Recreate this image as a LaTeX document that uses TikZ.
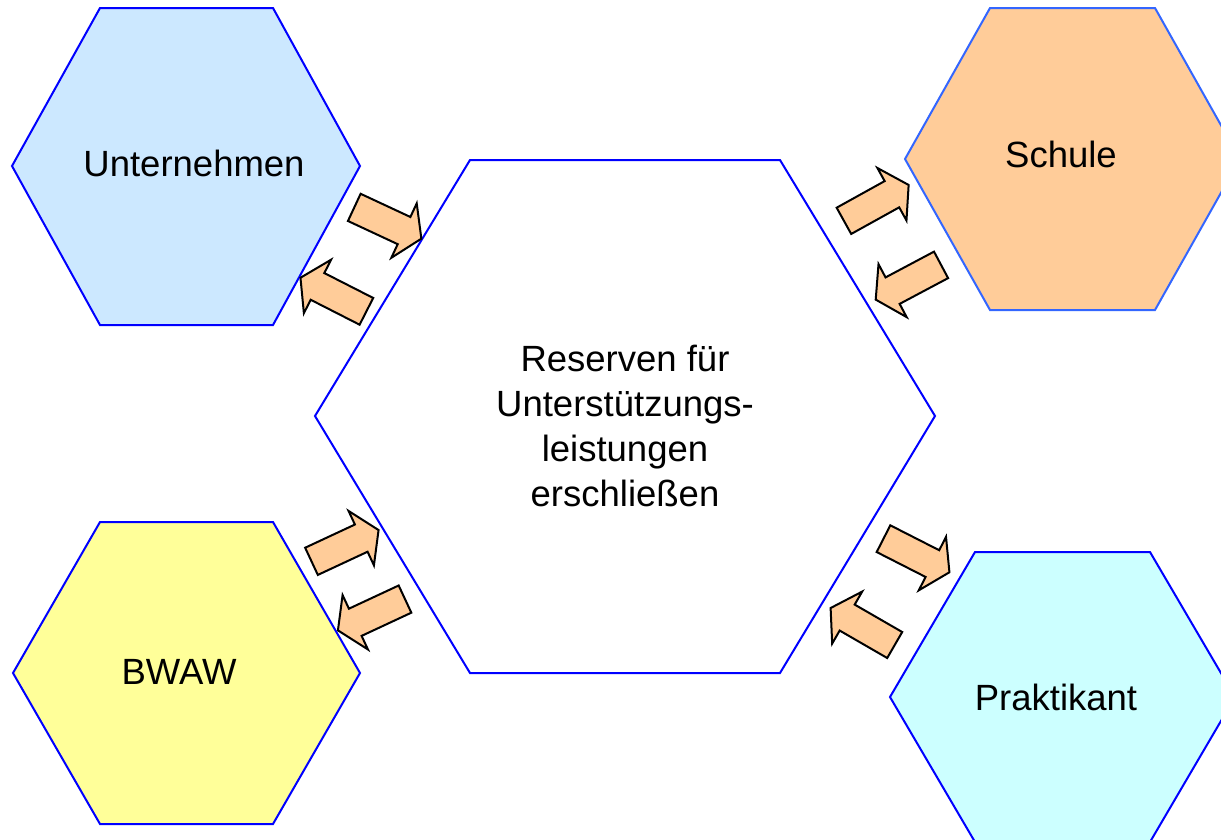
\documentclass[tikz,border=0pt]{standalone}
\usepackage{fontspec}
\setmainfont{Liberation Sans}
\usetikzlibrary{shapes.arrows}
\definecolor{hellblau}{HTML}{CCE8FF}
\definecolor{hellorange}{HTML}{FFCC99}
\definecolor{hellgelb}{HTML}{FFFF99}
\definecolor{helltuerkis}{HTML}{CCFFFF}
\definecolor{randblau}{HTML}{0000FF}
\definecolor{randhellblau}{HTML}{3366FF}
\begin{document}
\begin{tikzpicture}[
        x=1pt, y=-1pt, % Координаты в пикселях
        hexa/.style={draw=randblau, line width=2pt, line join=miter}, % Шестиугольники
        beschrift/.style={font=\fontsize{36.5}{45}\selectfont, align=center}, % Надписи
        pfeil/.style={single arrow, draw=black, fill=hellorange, line width=2pt,
            minimum height=74pt, inner xsep=0pt, inner ysep=14pt,
            single arrow head extend=15pt, single arrow tip angle=115}, % Стрелки
    ]
    \clip (0,0) rectangle (1221,839);

    % Шестиугольники
    \draw[hexa, fill=hellblau] (12,166) -- (100,8) -- (273,8) -- (360,166) -- (273,325) -- (100,325) -- cycle;
    \draw[hexa, fill=white] (315,416) -- (470,160) -- (780,160) -- (935,416) -- (780,673) -- (470,673) -- cycle;
    \draw[hexa, draw=randhellblau, fill=hellorange] (905,159) -- (990,8) -- (1155,8) -- (1240,159) -- (1155,310) -- (990,310) -- cycle;
    \draw[hexa, fill=hellgelb] (13,673) -- (100,522) -- (273,522) -- (360,673) -- (273,824) -- (100,824) -- cycle;
    \draw[hexa, fill=helltuerkis] (890,697) -- (975,552) -- (1150,552) -- (1235,697) -- (1150,842) -- (975,842) -- cycle;

    % Надписи
    \node[beschrift] (unternehmen) at (194,163) {Unternehmen};
    \node[beschrift] (reserven) at (625,426) {Reserven für\\Unterstützungs-\\leistungen\\erschließen};
    \node[beschrift] (schule) at (1061,154) {Schule};
    \node[beschrift] (bwaw) at (179,672) {BWAW};
    \node[beschrift] (praktikant) at (1056,697) {Praktikant};

    % Стрелки
    \node[pfeil, rotate=-25] (u2r) at (383.5,221) {};
    \node[pfeil, rotate=153] (r2u) at (337.7,296.7) {};
    \node[pfeil, rotate=25] (b2r) at (340.7,547.7) {};
    \node[pfeil, rotate=205] (r2b) at (375.8,612.7) {};
    \node[pfeil, rotate=29] (r2s) at (872.1,205.2) {};
    \node[pfeil, rotate=208] (s2r) at (912.6,280) {};
    \node[pfeil, rotate=-27] (r2p) at (912.2,553.3) {};
    \node[pfeil, rotate=150] (p2r) at (866.8,628.9) {};
\end{tikzpicture}
\end{document}
